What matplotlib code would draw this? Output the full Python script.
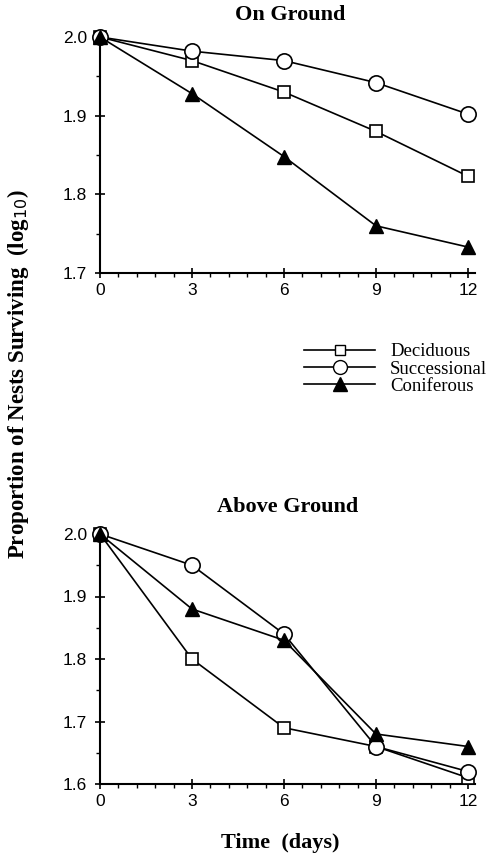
import matplotlib
matplotlib.use("Agg")
import matplotlib.pyplot as plt
from matplotlib.lines import Line2D
from matplotlib.ticker import MultipleLocator, FormatStrFormatter

# nest survival data (log10), days 0-12
days = [0, 3, 6, 9, 12]

ground_decid = [2.0, 1.97, 1.93, 1.88, 1.823]
ground_succ = [2.0, 1.982, 1.97, 1.942, 1.902]
ground_conif = [2.0, 1.928, 1.848, 1.76, 1.733]

above_decid = [2.0, 1.80, 1.69, 1.66, 1.61]
above_succ = [2.0, 1.95, 1.84, 1.66, 1.62]
above_conif = [2.0, 1.88, 1.83, 1.68, 1.66]

series_names = ["Deciduous", "Successional", "Coniferous"]

serif = "Liberation Serif"
sans = "Liberation Sans"

fig = plt.figure(figsize=(5, 8.55), dpi=100)
ax1 = fig.add_axes([0.2, 1 - 273 / 855, 0.75, 236 / 855])
ax2 = fig.add_axes([0.2, 1 - 784 / 855, 0.75, 250 / 855])


def draw(ax, decid, succ, conif, ylo, yhi):
    kw = dict(color="black", lw=1.2, clip_on=False, zorder=3)
    ax.plot(days, decid, marker="s", ms=8, mfc="white", mec="black", mew=1.2, **kw)
    ax.plot(days, succ, marker="o", ms=11, mfc="white", mec="black", mew=1.2, **kw)
    ax.plot(days, conif, marker="^", ms=10, mfc="black", mec="black", **kw)
    ax.set_xlim(0, 12.23)
    ax.set_ylim(ylo, yhi)
    ax.set_xticks(days)
    ax.xaxis.set_minor_locator(MultipleLocator(0.6))
    ax.yaxis.set_major_locator(MultipleLocator(0.1))
    ax.yaxis.set_minor_locator(MultipleLocator(0.05))
    ax.yaxis.set_major_formatter(FormatStrFormatter("%.1f"))
    ax.spines["top"].set_visible(False)
    ax.spines["right"].set_visible(False)
    ax.spines["left"].set_linewidth(1.5)
    ax.spines["bottom"].set_linewidth(1.5)
    ax.tick_params(which="major", direction="inout", length=7, width=1.2, labelsize=12.5)
    ax.tick_params(which="minor", direction="out", length=3, width=1)
    ax.tick_params(axis="y", which="major", pad=6)
    for lab in ax.get_xticklabels() + ax.get_yticklabels():
        lab.set_fontfamily(sans)


draw(ax1, ground_decid, ground_succ, ground_conif, 1.7, 2.0)
draw(ax2, above_decid, above_succ, above_conif, 1.6, 2.0)

fig.text(290 / 500, 1 - 15 / 855, "On Ground", ha="center", va="center",
         family=serif, weight="bold", fontsize=16)
fig.text(288 / 500, 1 - 507 / 855, "Above Ground", ha="center", va="center",
         family=serif, weight="bold", fontsize=16)
fig.text(18 / 500, 1 - 374 / 855, "Proportion of Nests Surviving  (log$_{10}$)",
         rotation=90, ha="center", va="center", family=serif, weight="bold", fontsize=16.5)
fig.text(280 / 500, 1 - 843 / 855, "Time  (days)", ha="center", va="center",
         family=serif, weight="bold", fontsize=16)

handles = [
    Line2D([], [], color="black", lw=1.2, marker="s", ms=7.5, mfc="white", mec="black"),
    Line2D([], [], color="black", lw=1.2, marker="o", ms=10, mfc="white", mec="black"),
    Line2D([], [], color="black", lw=1.2, marker="^", ms=9.5, mfc="black", mec="black"),
]
fig.legend(handles, series_names, loc="center left",
           bbox_to_anchor=(287 / 500, 1 - 369 / 855), frameon=False,
           handlelength=3.8, handletextpad=0.8, labelspacing=0.0,
           prop={"family": serif, "size": 13.5})

fig.savefig("out.png", dpi=100)
